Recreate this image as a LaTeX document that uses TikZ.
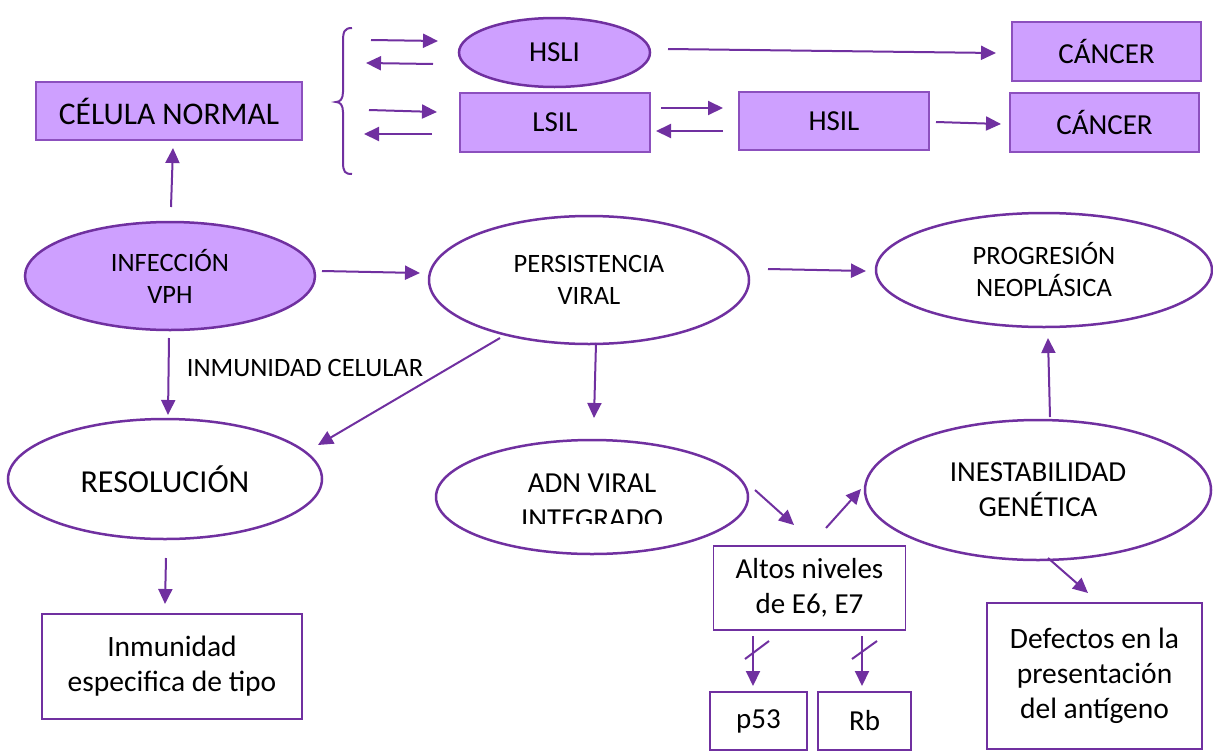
\documentclass[tikz,border=0pt]{standalone}
\usepackage{fontspec}
\setmainfont{Carlito}
\usetikzlibrary{arrows.meta,shapes.geometric}
\definecolor{purp}{RGB}{112,48,160}
\definecolor{lilac}{RGB}{206,160,255}
\definecolor{boxline}{RGB}{140,80,190}
\newcommand\szS{\fontsize{26.5}{32}\selectfont}
\newcommand\szM{\fontsize{29}{35}\selectfont}
\newcommand\szL{\fontsize{31.5}{36}\selectfont}
\newcommand\szD{\fontsize{29.5}{35}\selectfont}
\newcommand\szR{\fontsize{32}{36}\selectfont}
\begin{document}
\begin{tikzpicture}[x=1pt,y=-1pt,
  lilacbox/.style={rectangle,draw=boxline,line width=1.5pt,fill=lilac,inner sep=0pt,align=center},
  whitebox/.style={rectangle,draw=purp,line width=1.5pt,fill=white,inner sep=0pt,align=center},
  ell/.style={ellipse,draw=purp,line width=2.5pt,inner sep=0pt,align=center},
  arr/.style={-{Triangle[length=15pt,width=14pt]},draw=purp,line width=2pt},
  slash/.style={draw=purp,line width=2pt}]
\useasboundingbox (0,0) rectangle (1213,750);

% top row
\node[lilacbox,minimum width=266pt,minimum height=58pt,font=\szL] (celula) at (169,111) {CÉLULA NORMAL};
\node[ell,fill=lilac,minimum width=191pt,minimum height=69pt,font=\szM] (hsli) at (554.5,52.5) {HSLI};
\node[lilacbox,minimum width=190pt,minimum height=59pt,font=\szM] (lsil) at (555,122.5) {LSIL};
\node[lilacbox,minimum width=190pt,minimum height=58pt,font=\szM] (hsil) at (834,121) {HSIL};
\node[lilacbox,minimum width=189pt,minimum height=59pt,font=\szM] (cancera) at (1106.5,51.5) {CÁNCER};
\node[lilacbox,minimum width=189pt,minimum height=59pt,font=\szM] (cancerb) at (1104.5,122.5) {CÁNCER};

% brace
\draw[purp,line width=2pt] (352,28) .. controls (344,28) and (343,32) .. (343,42) -- (343,92)
  .. controls (343,99) and (340,102) .. (336,102) .. controls (340,102) and (343,105) .. (343,112)
  -- (343,162) .. controls (343,172) and (345,174) .. (352,174);

% middle ellipses
\node[ell,fill=lilac,minimum width=290pt,minimum height=108pt,font=\szS] (infec) at (170,276) {INFECCIÓN\\VPH};
\node[ell,minimum width=320pt,minimum height=128pt,font=\szS] (persist) at (589,280) {PERSISTENCIA\\VIRAL};
\node[ell,minimum width=336pt,minimum height=114pt,font=\szS] (progres) at (1044,270) {PROGRESIÓN\\NEOPLÁSICA};
\node[font=\szS,inner sep=0pt] (inmcel) at (305,368) {INMUNIDAD CELULAR};

% lower ellipses
\node[ell,minimum width=314pt,minimum height=120pt,font=\szR] (resol) at (165,479) {RESOLUCIÓN};
\node[ell,minimum width=312pt,minimum height=114pt] (adn) at (592,497) {};
\begin{scope}
\clip (430,430) rectangle (760,523);
\node[font=\fontsize{29}{36}\selectfont,align=center,inner sep=0pt] (adntext) at (592,501) {ADN VIRAL\\INTEGRADO};
\end{scope}
\node[ell,minimum width=346pt,minimum height=140pt,font=\szM] (inest) at (1038,490) {INESTABILIDAD\\GENÉTICA};

% boxes
\node[whitebox,minimum width=192pt,minimum height=84pt,font=\szM] (altos) at (809.5,588) {Altos niveles\\de E6, E7};
\node[whitebox,minimum width=215pt,minimum height=146pt,font=\szD] (defect) at (1094.5,676) {Defectos en la\\presentación\\del antígeno};
\node[whitebox,minimum width=260pt,minimum height=105pt,font=\szD] (inmun) at (172,666.5) {Inmunidad\\especifica de tipo};
\node[whitebox,minimum width=97pt,minimum height=58pt,font=\szM] (p53) at (758.5,721) {p53};
\node[whitebox,minimum width=93pt,minimum height=58pt,font=\szM] (rb) at (864.5,721) {Rb};

% arrow end points
\coordinate (b1s) at (371,40); \coordinate (b1e) at (438,41);
\coordinate (b2s) at (433,64); \coordinate (b2e) at (366,63);
\coordinate (b3s) at (369,110); \coordinate (b3e) at (437,112);
\coordinate (b4s) at (432,134); \coordinate (b4e) at (364,134);
\coordinate (hcs) at (668,49); \coordinate (hce) at (996,53);
\coordinate (lhs) at (661,108); \coordinate (lhe) at (723,108);
\coordinate (hls) at (723,131); \coordinate (hle) at (656,131);
\coordinate (hc2s) at (936,122); \coordinate (hc2e) at (1001,124);
\coordinate (ics) at (171,207); \coordinate (ice) at (173,148);
\coordinate (ips) at (322,271); \coordinate (ipe) at (420,273);
\coordinate (pps) at (768,269); \coordinate (ppe) at (866,271);
\coordinate (irs) at (169,338); \coordinate (ire) at (168,415);
\coordinate (prs) at (500,338); \coordinate (pre) at (318,445);
\coordinate (pas) at (596,343); \coordinate (pae) at (594,418);
\coordinate (ris) at (166,558); \coordinate (rie) at (165,604);
\coordinate (aas) at (755,490); \coordinate (aae) at (794,525);
\coordinate (ais) at (826,528); \coordinate (aie) at (861,489);
\coordinate (ips2) at (1050,417); \coordinate (ipe2) at (1048,338);
\coordinate (ids) at (1048,558); \coordinate (ide) at (1088,593);
\coordinate (aps) at (753,636); \coordinate (ape) at (753,686);
\coordinate (ars) at (862,636); \coordinate (are) at (862,686);

\draw[arr] (b1s) -- (b1e);
\draw[arr] (b2s) -- (b2e);
\draw[arr] (b3s) -- (b3e);
\draw[arr] (b4s) -- (b4e);
\draw[arr] (hcs) -- (hce);
\draw[arr] (lhs) -- (lhe);
\draw[arr] (hls) -- (hle);
\draw[arr] (hc2s) -- (hc2e);
\draw[arr] (ics) -- (ice);
\draw[arr] (ips) -- (ipe);
\draw[arr] (pps) -- (ppe);
\draw[arr] (irs) -- (ire);
\draw[arr] (prs) -- (pre);
\draw[arr] (pas) -- (pae);
\draw[arr] (ris) -- (rie);
\draw[arr] (aas) -- (aae);
\draw[arr] (ais) -- (aie);
\draw[arr] (ips2) -- (ipe2);
\draw[arr] (ids) -- (ide);
\draw[arr] (aps) -- (ape);
\draw[arr] (ars) -- (are);
\draw[slash] (745,659) -- (769,641);
\draw[slash] (852,659) -- (877,641);
\end{tikzpicture}
\end{document}
